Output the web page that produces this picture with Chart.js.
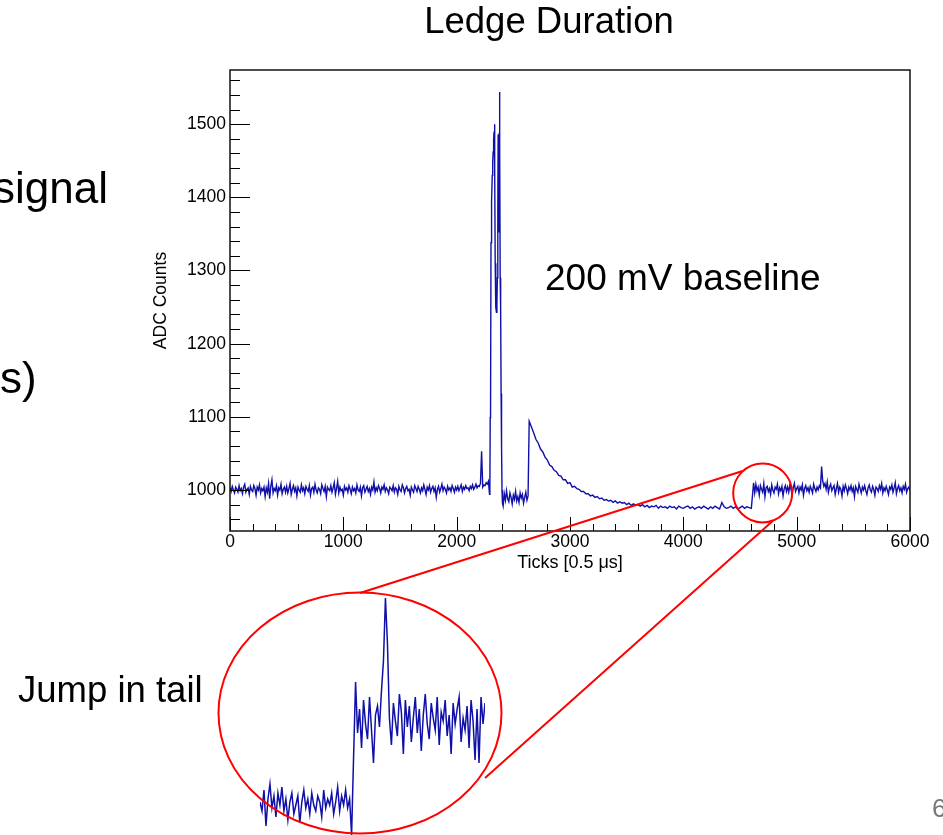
<!DOCTYPE html>
<html><head><meta charset="utf-8">
<script src="https://cdn.jsdelivr.net/npm/chart.js@4.4.1/dist/chart.umd.min.js"></script>
<style>
html,body{margin:0;padding:0;background:#fff;}
#wrap{position:relative;width:943px;height:835px;overflow:hidden;font-family:"Liberation Sans",Arial,sans-serif;background:#fff;}
canvas{position:absolute;}
.t{position:absolute;white-space:nowrap;line-height:1;color:#000;}
</style></head><body>
<div id="wrap">
<canvas id="main" width="943" height="835" style="left:0;top:0"></canvas>
<canvas id="inset" width="225" height="245" style="left:260px;top:590px"></canvas>
<canvas id="marks" width="943" height="835" style="left:0;top:0"></canvas>
<div class="t" style="left:349px;width:400px;text-align:center;top:3px;font-size:36.5px;">Ledge Duration</div>
<div class="t" style="left:545px;top:259px;font-size:37px;">200 mV baseline</div>
<div class="t" style="left:18px;top:672px;font-size:36.5px;">Jump in tail</div>
<div class="t" style="left:-7px;top:166px;font-size:44px;">signal</div>
<div class="t" style="left:0px;top:356px;font-size:44px;">s)</div>
<div class="t" style="left:932px;top:795px;font-size:26px;color:#777;">6</div>
</div>
<script>
const xAxisTitle = "Ticks [0.5 \u03bcs]";
const yAxisTitle = "ADC Counts";
const xTickLabels = [0, 1000, 2000, 3000, 4000, 5000, 6000];
const yTickLabels = [1000, 1100, 1200, 1300, 1400, 1500];

// baseline before the pulse: ticks 0..2290, every 10
const preStart = 0, preStep = 10;
const preCounts = [
1003,998,1005,1000,996,1004,1001,997,1006,999,
1002,995,1004,1008,997,1001,1003,994,1005,1000,
998,1006,1002,993,1004,1000,1007,996,1002,999,
1004,991,1003,997,1009,988,1005,1014,996,1002,
999,1006,993,1003,1000,1008,995,1001,1004,997,
1005,996,1002,1009,994,1001,1006,998,1003,992,
1004,1000,997,1007,999,1003,995,1005,1001,998,
1006,993,1002,1004,997,1008,1000,996,1003,1001,
995,1007,1002,998,1005,991,1004,1001,999,1006,
997,1003,1010,994,1002,1012,996,1004,999,1001,
993,1005,1000,1003,997,1006,1001,995,1004,999,
1002,996,1007,1000,998,1004,992,1003,1006,997,
1001,1005,998,1002,994,1004,1000,1011,997,1003,
999,1006,1002,996,1004,1001,1007,998,1003,1000,
995,1004,1002,999,1006,997,1003,1001,994,1005,
1000,998,1007,1003,996,1002,1005,999,1001,993,
1004,1000,997,1006,1002,998,1005,1001,996,1003,
999,1007,1001,994,1004,1000,1006,997,1002,1005,
998,1003,990,1001,1005,997,1002,1008,999,1004,
1001,996,1005,1000,1003,998,1006,1002,997,1004,
1000,1005,999,1003,1007,998,1004,1001,1006,1002,
1003,999,1005,1002,1007,1001,1004,1008,1003,1006,
1005,1009,1053,1004,1007,1006,1010,1008,1012,994
];

// the main pulse
const pulseTicks = [2293,2296,2299,2303,2306,2310,2314,2318,2322,2326,2330,2334,2337,2340,2343,2347,2351,2355,2359,2363,2366,2369,2372,2375,2378,2381,2384,2388,2392,2396,2400,2404];
const pulseCounts = [1002,1099,1110,1338,1352,1395,1430,1449,1462,1478,1490,1500,1440,1310,1262,1250,1243,1255,1290,1380,1486,1430,1352,1488,1544,1470,1290,1250,1132,1060,1000,982];

// undershoot after the pulse: ticks 2410..2630, every 10
const dipStart = 2410, dipStep = 10;
const dipCounts = [978,995,986,999,988,984,996,990,981,993,987,998,985,991,983,996,989,994,982,990,997,986,992];

// decaying tail: ticks 2640..4600, every 20
const tailStart = 2640, tailStep = 20;
const tailCounts = [
1094,1086,1078,1069,1064,1056,1052,1045,1041,1034,
1032,1027,1025,1020,1019,1014,1014,1009,1010,1004,
1005,1002,1001,998,998,995,995,992,993,990,
991,988,989,986,987,985,986,983,985,982,
984,982,983,980,982,979,981,979,980,978,
980,977,979,976,978,977,979,975,978,976,
977,975,978,976,977,974,978,976,975,977,
978,975,977,974,976,977,975,978,976,974,
977,975,978,976,974,983,977,975,976,978,
975,977,974,976,978,975,977,976,975
];

// after the jump: ticks 4620..6000, every 10
const postStart = 4620, postStep = 10;
const postCounts = [
1010,996,1008,999,1004,993,1006,1001,997,1009,
991,1003,1005,998,1002,994,1007,1000,996,1004,
1001,1008,995,1003,999,1005,992,1002,1006,998,
1004,997,1007,1001,994,1003,1009,998,1002,1005,
996,1004,1000,1007,993,1002,1006,999,1003,997,
1005,1001,996,1008,1002,998,1004,1000,1006,1003,
1032,1012,1005,1009,1001,1011,997,1004,1008,999,
1003,1006,994,1002,1009,997,1004,1001,992,1005,
999,1007,1002,995,1004,1000,1006,998,1003,991,
1005,1001,997,1008,1002,996,1004,1000,1006,999,
994,1003,1007,1000,997,1005,1001,993,1004,1002,
998,1006,1001,1009,996,1003,999,1005,1000,994,
1004,1001,1007,997,1003,1010,995,1002,1006,999,
1003,996,1005,1001,1008,997,1002,1004,999
];

// magnified inset around the jump (sample index)
const insetLow = [
977,974,981,969,978,983,975,979,972,980,
976,982,974,978,971,977,980,973,976,979,
970,977,981,975,978,973,980,976,974,979,
977,972,981,975,978,976,980,973,977,982,
974,979,976,981,975,978,966
];
const insetHigh = [
992,1017,1000,1008,995,1011,1003,998,1012,1001,990,
1006,1009,1002,1014,1024,1045,1030,1005,996,1010,
1004,999,1013,1007,993,1011,1002,1009,997,1005,
1012,1000,1008,994,1006,1013,1003,998,1010,1005,
1001,1012,996,1007,1004,1011,999,1006,993,1010,
1003,1008,1012,997,1005,1001,1009,995,1011,1004,
991,1008,990,1012,1003,1010
];

const FONT = "'Liberation Sans', Arial, sans-serif";
const LINE = '#1010a8';

function seg(start, step, vals) { return vals.map((v, i) => ({x: start + i * step, y: v})); }
const points = [].concat(
  seg(preStart, preStep, preCounts),
  pulseTicks.map((t, i) => ({x: t, y: pulseCounts[i]})),
  seg(dipStart, dipStep, dipCounts),
  seg(tailStart, tailStep, tailCounts),
  seg(postStart, postStep, postCounts)
);

const rootFrame = {
  id: 'rootFrame',
  afterDatasetsDraw(chart) {
    const {ctx, chartArea: a, scales: {x, y}} = chart;
    ctx.save();
    ctx.strokeStyle = '#000';
    ctx.lineWidth = 1;
    ctx.beginPath();
    for (let v = xTickLabels[0]; v <= xTickLabels[xTickLabels.length - 1]; v += 200) {
      const px = Math.round(x.getPixelForValue(v)) + 0.5;
      const len = xTickLabels.includes(v) ? 14 : 7;
      ctx.moveTo(px, a.bottom); ctx.lineTo(px, a.bottom - len);
    }
    for (let v = 960; v <= 1560; v += 20) {
      const py = Math.round(y.getPixelForValue(v)) + 0.5;
      const len = yTickLabels.includes(v) ? 20 : 10;
      ctx.moveTo(a.left, py); ctx.lineTo(a.left + len, py);
    }
    ctx.stroke();
    ctx.lineWidth = 1.5;
    ctx.strokeStyle = '#111';
    ctx.strokeRect(a.left, a.top, a.right - a.left, a.bottom - a.top);
    ctx.restore();
  }
};

const mainChart = new Chart(document.getElementById('main'), {
  type: 'line',
  data: {datasets: [{data: points, borderColor: LINE, borderWidth: 1.4, pointRadius: 0, tension: 0, fill: false}]},
  options: {
    responsive: false, animation: false, events: [],
    layout: {padding: {left: 151, top: 70, right: 33, bottom: 261}},
    plugins: {legend: {display: false}, tooltip: {enabled: false}, title: {display: false}},
    scales: {
      x: {
        type: 'linear', min: 0, max: 6000,
        afterBuildTicks: s => { s.ticks = xTickLabels.map(v => ({value: v})); },
        afterFit: s => { s.height = 43; },
        grid: {display: false, drawTicks: false}, border: {display: false},
        ticks: {padding: 1, maxRotation: 0, autoSkip: false, color: '#000', font: {family: FONT, size: 17.5}, callback: v => String(v)},
        title: {display: true, text: xAxisTitle, color: '#000', font: {family: FONT, size: 18}, padding: {top: 0, bottom: 0}}
      },
      y: {
        type: 'linear', min: 944, max: 1574,
        afterBuildTicks: s => { s.ticks = yTickLabels.map(v => ({value: v})); },
        afterFit: s => { s.width = 79; },
        grid: {display: false, drawTicks: false}, border: {display: false},
        ticks: {padding: 4, autoSkip: false, color: '#000', font: {family: FONT, size: 17.5}, callback: v => String(v)},
        title: {display: true, text: yAxisTitle, color: '#000', font: {family: FONT, size: 17.5}, padding: {top: 0, bottom: 0}}
      }
    }
  },
  plugins: [rootFrame]
});

const insetPoints = insetLow.concat(insetHigh).map((v, i) => ({x: i, y: v}));
new Chart(document.getElementById('inset'), {
  type: 'line',
  data: {datasets: [{data: insetPoints, borderColor: LINE, borderWidth: 1.5, pointRadius: 0, tension: 0, fill: false, clip: false}]},
  options: {
    responsive: false, animation: false, events: [],
    layout: {padding: 0},
    plugins: {legend: {display: false}, tooltip: {enabled: false}},
    scales: {
      x: {type: 'linear', display: false, min: 0, max: insetPoints.length - 1},
      y: {type: 'linear', display: false, min: 966, max: 1047.7}
    }
  }
});

// red highlight circle, magnifier ellipse and connectors
const ov = document.getElementById('marks').getContext('2d');
const cx = mainChart.scales.x.getPixelForValue(4700);
const cy = mainChart.scales.y.getPixelForValue(996);
ov.strokeStyle = '#ff0000';
ov.lineWidth = 2;
ov.beginPath(); ov.arc(cx, cy, 29.5, 0, 2 * Math.PI); ov.stroke();
ov.beginPath(); ov.ellipse(360, 713, 141.5, 120.5, 0, 0, 2 * Math.PI); ov.stroke();
ov.beginPath();
ov.moveTo(360, 593); ov.lineTo(cx - 20, cy - 22);
ov.moveTo(485, 778); ov.lineTo(cx + 10, cy + 28);
ov.stroke();
</script>
</body></html>
